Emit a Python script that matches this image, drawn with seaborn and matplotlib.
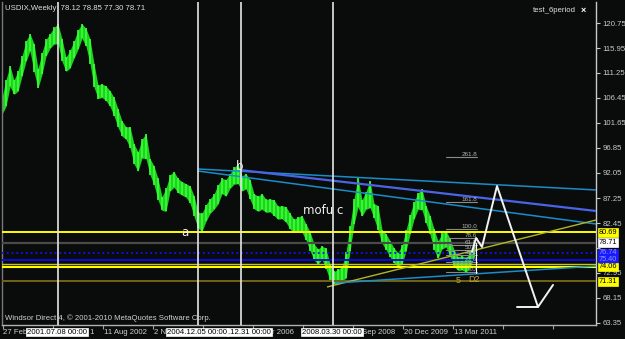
import numpy as np
import pandas as pd
import matplotlib
matplotlib.use('Agg')
import matplotlib.pyplot as plt
import seaborn as sns
from matplotlib.transforms import blended_transform_factory

# ---------------- data ----------------
bar_high = [106.5, 109.9, 112.6, 109.8, 111.6, 114.4, 117.3, 118.7, 116.8, 112.0,
            115.1, 117.6, 118.7, 119.9, 120.6, 117.7, 114.2, 115.5, 117.3, 119.4,
            120.6, 119.7, 117.7, 113.0, 108.9, 109.1, 108.7, 107.8, 106.5, 104.3,
            102.0, 100.9, 100.9, 97.6, 96.1, 98.5, 99.6, 94.8, 93.4, 91.0,
            87.5, 89.1, 91.7, 92.3, 91.0, 90.4, 90.0, 89.6, 87.7, 84.6,
            84.3, 86.0, 87.1, 88.0, 89.8, 91.0, 90.8, 91.9, 93.1, 93.8,
            91.5, 91.9, 90.8, 88.1, 87.6, 88.1, 87.0, 87.1, 86.9, 85.7,
            85.8, 85.6, 84.3, 83.2, 83.6, 83.9, 82.3, 80.8, 78.5, 77.5,
            78.1, 77.6, 74.7, 73.2, 73.6, 74.1, 76.9, 82.0, 87.1, 91.2,
            86.9, 88.5, 90.6, 86.2, 85.8, 81.2, 80.4, 79.1, 77.7, 76.8,
            78.2, 81.1, 84.1, 86.5, 88.2, 89.0, 85.8, 83.9, 81.4, 79.0,
            80.5, 81.0, 79.5, 77.4, 76.0, 76.2, 75.8, 76.9, 78.9]
bar_low = [103.3, 104.8, 108.6, 107.1, 107.7, 110.6, 113.4, 115.4, 111.4, 108.3,
           110.9, 114.4, 115.9, 116.7, 116.8, 113.4, 111.5, 112.1, 114.0, 115.7,
           117.8, 116.3, 113.0, 108.5, 106.3, 106.5, 105.9, 104.8, 103.0, 100.8,
           99.1, 98.5, 96.9, 93.8, 92.4, 94.9, 94.8, 91.7, 89.8, 86.9,
           84.9, 84.7, 88.6, 89.3, 88.3, 87.8, 87.4, 86.3, 83.8, 81.5,
           80.9, 82.8, 84.3, 85.1, 86.1, 88.1, 87.6, 89.1, 89.9, 90.0,
           88.6, 89.0, 87.0, 85.2, 84.7, 85.1, 84.5, 84.6, 83.9, 83.2,
           83.3, 82.6, 81.3, 80.7, 80.9, 80.7, 79.2, 77.2, 75.4, 74.6,
           75.5, 73.7, 71.5, 70.8, 70.8, 71.5, 71.9, 77.1, 82.2, 85.5,
           83.8, 85.1, 85.4, 83.4, 81.1, 78.6, 77.4, 76.0, 74.8, 74.2,
           74.6, 77.1, 80.3, 83.2, 85.1, 85.0, 82.4, 80.3, 77.4, 75.7,
           77.5, 77.9, 76.1, 74.2, 73.4, 73.5, 73.1, 73.8, 76.0]

# horizontal price levels
level_prices = [80.69, 78.71, 76.74, 75.40, 74.63, 74.06, 71.31]
level_colors = ['#ffff00', '#4a4a4a', '#1010ff', '#0a0ae0', '#c8c800', '#ffff00', '#6e6418']
level_styles = ['-', '-', ':', '-', '-', '-', '-']
level_widths = [1.4, 1.6, 1.3, 1.4, 1.0, 1.5, 1.4]

# right-scale price tags (the two blue levels share one tag)
tag_prices = [80.69, 78.71, 76.07, 74.06, 71.31]
tag_texts = ['80.69', '78.71', '76.74\n75.40', '74.06', '71.31']
tag_bg = ['#ffff00', '#ffffff', '#1a1aff', '#ffff00', '#ffff00']
tag_fg = ['#000000', '#000000', '#8c96ff', '#000000', '#000000']

# vertical lines (bar index) and their date tags (visible part of each tag)
vline_bars = [14.0, 49.0, 59.75, 82.75]
vline_dates = ['2001.07.08 00:00', '2004.12.05 00:00', '.12.31 00:00', '2008.03.30 00:00']
vline_tag_align = ['center', 'center', 'left', 'center']
vline_tag_bar = [13.75, 48.75, 56.5, 82.5]

# trend lines: (bar0, price0, bar1, price1)
trend_x0 = [49.0, 49.0, 59.5, 81.25, 83.25]
trend_y0 = [92.81, 92.43, 92.62, 70.23, 70.99]
trend_x1 = [148.5, 148.5, 148.5, 148.5, 148.5]
trend_y1 = [88.80, 82.29, 84.78, 83.05, 74.25]
trend_colors = ['#1a8cc8', '#1a8cc8', '#4a64e6', '#b4b428', '#1a8cc8']
trend_widths = [1.1, 1.1, 1.6, 1.0, 1.1]

# fibonacci expansion
fib_labels = ['261.8', '161.8', '100.0', '78.6', '61.8', '50.0', '38.2', '23.6', '0.0']
fib_prices = [95.11, 86.50, 81.33, 79.61, 78.27, 77.22, 76.26, 75.02, 73.11]

# projected zig-zag
proj_bars = [117.5, 118.5, 120.0, 123.75, 134.0, 137.75]
proj_prices = [76.93, 79.61, 77.89, 89.56, 66.41, 70.62]
proj_base_bars = [128.75, 134.0]
proj_base_prices = [66.41, 66.41]

# axis labels (only the parts left visible by the tags)
ytick_vals = [120.75, 115.95, 111.25, 106.45, 101.65, 96.85, 92.05, 87.25,
              82.45, 77.65, 72.95, 68.15, 63.35]
ytick_texts = ['120.75', '115.95', '111.25', '106.45', '101.65', '96.85', '92.05', '87.25',
               '82.45', '', '72.95', '68.15', '63.35']
xtick_bars = [0.25, 12.75, 25.25, 37.75, 50.25, 62.75, 75.25, 87.75, 100.25,
              112.75, 125.25, 137.75]
xlabel_bars = [0.3, 21.8, 25.6, 37.9, 67.6, 90.0, 100.6, 113.1]
xlabel_texts = ['27 Feb', '1', '11 Aug 2002', '2 N', 'r 2006', 'Sep 2008',
                '20 Dec 2009', '13 Mar 2011']

wave_labels = ['a', 'b', 'mofu c']
wave_bars = [45.75, 59.5, 80.25]
wave_prices = [80.57, 93.2, 84.78]

# ---------------- style ----------------
BG = '#0a0c0c'
sns.set_theme(style='dark', rc={'axes.facecolor': BG, 'figure.facecolor': BG})
plt.rcParams['font.family'] = ['Liberation Sans', 'DejaVu Sans']
SMALL = 5.6

W, H = 625, 339
fig = plt.figure(figsize=(W / 100, H / 100), dpi=100)
L, R, T, B = 2, 596, 2, 325
ax = fig.add_axes([L / W, (H - B) / H, (R - L) / W, (B - T) / H])
ax.set_facecolor(BG)

def fx(px):
    return px / W

def fy(py):
    return 1 - py / H

ax.set_xlim(0, 148.5)
ax.set_ylim(62.96, 124.77)

# price bars: weekly range band with the bars on top
idx = np.arange(len(bar_high))
ax.fill_between(idx, bar_low, bar_high, color='#1ed21e', lw=0, zorder=2)
ax.vlines(idx, bar_low, bar_high, color='#3cff3c', lw=1.2, zorder=2)

# horizontal levels
for p, c, s, w in zip(level_prices, level_colors, level_styles, level_widths):
    ax.axhline(p, color=c, ls=s, lw=w, zorder=3)

# trend lines
for x0, y0, x1, y1, c, w in zip(trend_x0, trend_y0, trend_x1, trend_y1, trend_colors, trend_widths):
    ax.plot([x0, x1], [y0, y1], color=c, lw=w, zorder=3, solid_capstyle='butt')

# vertical lines
for vb in vline_bars:
    ax.axvline(vb, color='#e6e6e6', lw=1.2, zorder=4)

# fibonacci
for lab, p in zip(fib_labels, fib_prices):
    ax.plot([111.0, 118.75], [p, p], color='#8a8a8a', lw=0.8, zorder=4)
    ax.text(118.75, p + 0.05, lab, color='#b4b4b4', fontsize=4.5, ha='right', va='bottom', zorder=5)
ax.plot([118.5, 118.5], [73.0, 78.6], color='#ffffff', lw=0.8, zorder=5)
ax.text(114.0, 71.5, '5', color='#c8a832', fontsize=6.5, ha='center', va='center', zorder=5)
ax.text(118.0, 71.7, 'D2', color='#c8a832', fontsize=6.5, ha='center', va='center', zorder=5)

# projection zig-zag
proj = pd.DataFrame({'bar': proj_bars, 'price': proj_prices})
sns.lineplot(data=proj, x='bar', y='price', sort=False, estimator=None, color='#f2f2f2',
             lw=1.4, ax=ax, zorder=5)
ax.plot(proj_base_bars, proj_base_prices, color='#f2f2f2', lw=1.4, zorder=5)

# wave labels
for lab, xb, p in zip(wave_labels, wave_bars, wave_prices):
    ax.text(xb, p, lab, color='#f0f0f0', fontsize=8.5, family='DejaVu Sans', ha='center',
            va='center', zorder=6)

# axes and ticks
ax.set_xlabel('')
ax.set_ylabel('')
ax.grid(False)
ax.yaxis.tick_right()
ax.set_yticks(ytick_vals)
ax.set_yticklabels(ytick_texts)
ax.tick_params(axis='y', colors='#c8c8c8', labelsize=SMALL, length=3, width=0.8, pad=1.5,
               direction='out', right=True, left=False)
ax.set_xticks(xtick_bars)
ax.set_xticklabels([])
ax.tick_params(axis='x', colors='#a0a0a0', length=3, width=0.8, direction='out', bottom=True)
ax.spines['top'].set_visible(False)
ax.spines['left'].set_color('#7a7a7a')
ax.spines['bottom'].set_color('#b0b0b0')
ax.spines['right'].set_color('#c8c8c8')
for sp in ['left', 'bottom', 'right']:
    ax.spines[sp].set_linewidth(1.0)

trans_x = blended_transform_factory(ax.transData, fig.transFigure)
for xb, t in zip(xlabel_bars, xlabel_texts):
    ax.text(xb, fy(332), t, transform=trans_x, color='#d0d0d0', fontsize=SMALL,
            ha='left', va='center', zorder=10, clip_on=False)

# vertical line date tags
for xb, t, ha in zip(vline_tag_bar, vline_dates, vline_tag_align):
    ax.text(xb, fy(332), t, transform=trans_x, color='#000000',
            fontsize=SMALL, ha=ha, va='center', zorder=20, clip_on=False,
            bbox=dict(boxstyle='square,pad=0.12', fc='#ffffff', ec='#ffffff', lw=0.5))

# right price tags
trans_y = blended_transform_factory(fig.transFigure, ax.transData)
for p, t, bg, fg in zip(tag_prices, tag_texts, tag_bg, tag_fg):
    ax.text(fx(599), p, t, transform=trans_y, color=fg, fontsize=5.3, ha='left', va='center',
            linespacing=1.0, zorder=30, clip_on=False,
            bbox=dict(boxstyle='square,pad=0.1', fc=bg, ec=bg, lw=0.5))

# chrome texts
fig.text(fx(5), fy(8), 'USDIX,Weekly  78.12 78.85 77.30 78.71', color='#e0e0e0',
         fontsize=SMALL, ha='left', va='center')
fig.text(fx(576), fy(10), 'test_6period', color='#e0e0e0', fontsize=SMALL, ha='right', va='center')
fig.text(fx(583), fy(10), '×', color='#ffffff', fontsize=6.5, fontweight='bold', ha='center', va='center')
fig.text(fx(5), fy(318), 'Windsor Direct 4, © 2001-2010 MetaQuotes Software Corp.', color='#d0d0d0',
         fontsize=SMALL, ha='left', va='center')

fig.savefig('out.png', dpi=100, facecolor=BG)
